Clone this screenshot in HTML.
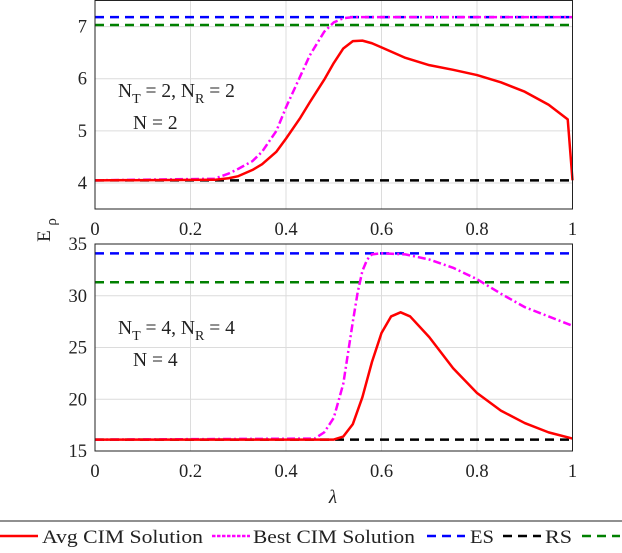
<!DOCTYPE html>
<html><head><meta charset="utf-8"><style>
body{margin:0;background:#fff;width:622px;height:548px;overflow:hidden}
text{font-family:"Liberation Serif",serif;fill:#222}
</style></head><body>
<svg id="s" width="622" height="548"></svg>
<script>
const lam=[0,0.25,0.28,0.3,0.33,0.35,0.38,0.4,0.43,0.45,0.48,0.5,0.52,0.54,0.56,0.58,0.6,0.65,0.7,0.75,0.8,0.85,0.9,0.95,0.99,1.0];
const avgTop=[4.05,4.06,4.09,4.13,4.25,4.36,4.6,4.85,5.25,5.55,5.98,6.3,6.58,6.72,6.73,6.68,6.6,6.4,6.26,6.17,6.07,5.93,5.75,5.5,5.22,4.05];
const lamBT=[0,0.25,0.28,0.3,0.33,0.35,0.38,0.4,0.43,0.45,0.48,0.5,0.52,0.54,1.0];
const bestTop=[4.05,4.08,4.18,4.27,4.42,4.6,5.0,5.45,6.05,6.45,6.9,7.08,7.16,7.18,7.18];
const refTop=[7.18,4.05,7.03]; // ES, RS, green
const lamB=[0,0.5,0.52,0.54,0.56,0.58,0.6,0.62,0.64,0.66,0.7,0.75,0.8,0.85,0.9,0.95,1.0];
const avgBot=[16.1,16.1,16.4,17.6,20.2,23.6,26.4,28.0,28.4,28.0,26.0,23.0,20.6,18.9,17.7,16.8,16.2];
const lamBB=[0,0.46,0.48,0.5,0.52,0.53,0.54,0.55,0.56,0.57,0.58,0.6,0.65,0.7,0.75,0.8,0.85,0.9,0.95,1.0];
const bestBot=[16.1,16.2,16.8,18.2,21.5,24.5,27.5,30.3,32.4,33.5,34.0,34.1,34.0,33.5,32.7,31.6,30.2,28.9,28,27.1];
const refBot=[34.1,16.1,31.3];
const xTicks=[0,0.2,0.4,0.6,0.8,1];
const yTicksTop=[4,5,6,7];
const yTicksBot=[15,20,25,30,35];
const S=document.getElementById('s'),NS='http://www.w3.org/2000/svg';
function mk(t,a,p){const e=document.createElementNS(NS,t);for(const k in a)e.setAttribute(k,a[k]);(p||S).appendChild(e);return e;}
const X0=95,X1=572.5;
const sx=v=>X0+v*(X1-X0);
function panel(name,yT,yB,ymin,ymax,yt,lx,avg,lx2,best,refs,l1,l2){
 const sy=v=>yB-(v-ymin)/(ymax-ymin)*(yB-yT);
 const g=mk('g',{});
 
 
 xTicks.forEach(v=>{mk('line',{x1:sx(v),x2:sx(v),y1:yT,y2:yB,stroke:'#dcdcdc','stroke-width':1},g);
  const t=mk('text',{x:sx(v),y:yB+26,'font-size':18.5,'text-anchor':'middle'},g);t.textContent=v;
  });
 yt.forEach(v=>{mk('line',{x1:X0,x2:X1,y1:sy(v),y2:sy(v),stroke:'#dcdcdc','stroke-width':1},g);
  const t=mk('text',{x:X0-8,y:sy(v)+6,'font-size':18.5,'text-anchor':'end'},g);t.textContent=v;
  });
 const cols=['#0000ff','#000','#008000'];
 refs.forEach((v,i)=>{const l=mk('line',{x1:X0,x2:X1,y1:sy(v),y2:sy(v),stroke:cols[i],'stroke-width':2.5,'stroke-dasharray':'9,6'},g);
  });
 const p2=mk('polyline',{points:lx2.map((v,i)=>sx(v)+','+sy(best[i])).join(' '),fill:'none',stroke:'#ff00ff','stroke-width':2.5,'stroke-dasharray':'8,3,2,3','stroke-linejoin':'round'},g);
 
 const p=mk('polyline',{points:lx.map((v,i)=>sx(v)+','+sy(avg[i])).join(' '),fill:'none',stroke:'#ff0000','stroke-width':2.5,'stroke-linejoin':'round'},g);
 
 mk('rect',{x:X0,y:yT,width:X1-X0,height:yB-yT,fill:'none',stroke:'#222','stroke-width':1},g);
 const a=mk('text',{x:118,y:l1,'font-size':19.5},g);a.innerHTML=l2[0];
 
 const b=mk('text',{x:133,y:l1+32,'font-size':19.5},g);b.textContent=l2[1];
 
}
panel('top-panel',0.5,209,3.5,7.5,yTicksTop,lam,avgTop,lamBT,bestTop,refTop,97,
 ['N<tspan font-size="14" dy="6">T</tspan><tspan dy="-6"> = 2, N</tspan><tspan font-size="14" dy="6">R</tspan><tspan dy="-6"> = 2</tspan>','N = 2']);
panel('bottom-panel',244,451,15,35,yTicksBot,lamB,avgBot,lamBB,bestBot,refBot,334,
 ['N<tspan font-size="14" dy="6">T</tspan><tspan dy="-6"> = 4, N</tspan><tspan font-size="14" dy="6">R</tspan><tspan dy="-6"> = 4</tspan>','N = 4']);
let t=mk('text',{x:333,y:503,'font-size':19,'font-style':'italic','text-anchor':'middle'});t.textContent='λ';

t=mk('text',{x:0,y:0,'font-size':19,transform:'translate(50,230) rotate(-90)','text-anchor':'middle'});t.innerHTML='E <tspan font-size="15" dy="6">ρ</tspan>';

mk('line',{x1:0,x2:622,y1:521,y2:521,stroke:'#222','stroke-width':1});
const leg=[['Avg CIM Solution','#ff0000','',0,42,161],['Best CIM Solution','#ff00ff','3.5,1.5',212,253,162],['ES','#0000ff','9,6',427,470,24],['RS','#000','9,6',503,545,27],['','#008000','9,6',582,0,0]];
leg.forEach(d=>{const g=mk('g',{});
 
 const a={x1:d[3],x2:d[3]+38,y1:536,y2:536,stroke:d[1],'stroke-width':2.5};if(d[2])a['stroke-dasharray']=d[2];mk('line',a,g);
 if(d[0]){const tt=mk('text',{x:d[4],y:543,'font-size':19,textLength:d[5],lengthAdjust:'spacingAndGlyphs'},g);tt.textContent=d[0];}});
</script></body></html>
